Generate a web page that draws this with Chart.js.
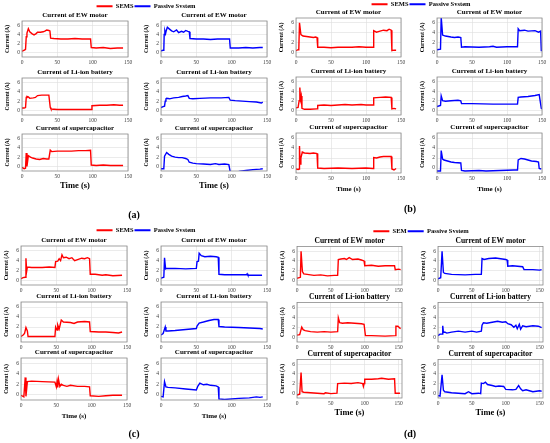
<!DOCTYPE html>
<html lang="en">
<head>
<meta charset="UTF-8">
<title>Current of EW motor, Li-ion battery and supercapacitor</title>
<script src="https://cdn.jsdelivr.net/npm/chart.js"></script>
<style>
  html, body { margin: 0; padding: 0; background: #fff; }
  body { width: 550px; height: 443px; position: relative; overflow: hidden; }
  canvas { position: absolute; }
  .tag { position: absolute; font: bold 10px "Liberation Serif", serif; transform: translate(-50%, -50%); color: #000; }
</style>
</head>
<body>
<script>
// ---- data ----
const xTicks = [0, 50, 100, 150];
const yTicks = [0, 2, 4, 6];
const plotTitles = ['Current of EW motor', 'Current of Li-ion battery', 'Current of supercapacitor'];
const seriesNames = ['SEMS', 'Passive System'];
const seriesNamesD = ['SEM', 'Passive System'];

// [time (s), current (A)]
// (a)
const aMotorSems = [[0,0.3],[2,0.4],[4,0.6],[5,0.7],[6,3.5],[7,4.3],[9,5.3],[11,4.6],[14,4.2],[17,3.9],[20,4.2],[22,4.5],[26,4.5],[30,4.6],[33,4.8],[35,5.0],[38,4.9],[39.5,4.8],[40.5,3.2],[45,3.1],[55,3.0],[65,3.0],[75,3.1],[85,3.0],[92,3.0],[97,3.0],[98,1.1],[105,1.0],[115,1.1],[125,0.9],[135,1.0],[143,1.0]];
const aMotorPass = [[0,0.4],[3,0.5],[4,0.6],[4.5,4.0],[5.5,4.8],[6.5,4.2],[7.5,4.9],[9,5.6],[12,5.2],[15,4.8],[18,4.6],[22,5.0],[25,4.4],[29,4.7],[32,4.5],[35,4.9],[38,4.7],[40,4.6],[41,3.1],[50,3.0],[60,3.0],[70,2.9],[80,3.0],[90,3.0],[97,3.0],[98,1.0],[110,1.0],[120,1.1],[130,1.0],[140,1.1],[144,1.1]];
const aBattSems = [[0,0.5],[3,0.5],[5,0.6],[6,2.8],[7,3.0],[9,2.9],[11,2.6],[16,2.7],[19,2.8],[22,3.2],[28,3.3],[34,3.3],[38,3.3],[40,0.6],[41,0.3],[50,0.2],[60,0.2],[70,0.2],[80,0.2],[90,0.2],[98,0.2],[99,1.0],[110,1.1],[120,1.1],[130,1.2],[138,1.1],[143,1.1]];
const aBattPass = [[0,0.6],[3,0.8],[5,0.9],[6,2.0],[7,2.5],[8,2.6],[12,2.5],[18,2.7],[25,2.8],[30,3.0],[35,3.1],[38,3.2],[40,2.6],[45,2.5],[55,2.6],[70,2.7],[85,2.7],[96,2.8],[98,2.2],[105,2.1],[115,2.0],[125,1.9],[135,1.8],[142,1.6],[144,1.8]];
const aCapSems = [[0,-0.2],[3,-0.5],[5,-0.4],[6,2.9],[7,0.0],[9,2.3],[12,2.0],[15,1.8],[20,1.6],[25,1.5],[30,1.7],[35,1.6],[38,1.6],[40,3.5],[42,3.2],[50,3.3],[60,3.3],[70,3.3],[80,3.4],[90,3.4],[97,3.5],[98,0.3],[105,0.2],[115,0.3],[125,0.2],[135,0.2],[143,0.2]];
const aCapPass = [[0,-0.5],[3,-0.5],[4,-0.4],[5,2.2],[8,3.0],[11,2.6],[15,2.2],[20,2.0],[25,1.9],[30,1.9],[35,1.7],[38,1.5],[40,0.9],[45,0.7],[50,0.6],[60,0.5],[70,0.4],[77,0.6],[82,0.4],[90,0.5],[96,0.4],[98,-1.2],[100,-1.2],[110,-1.1],[120,-0.9],[130,-0.7],[140,-0.6],[144,-0.5]];
// (b)
const bMotorSems = [[0,0.3],[3,0.5],[4,0.6],[5,6.0],[7,3.6],[10,3.3],[15,3.2],[20,3.1],[25,3.0],[28,3.1],[30,3.0],[31,1.0],[40,1.0],[50,0.9],[60,1.0],[70,1.0],[80,1.0],[90,1.1],[100,1.0],[110,1.0],[111,4.4],[115,4.1],[120,4.3],[125,4.5],[130,4.4],[133,4.7],[136,4.5],[137,0.3],[140,0.4],[143,0.4]];
const bMotorPass = [[0,0.5],[5,0.6],[6,7.2],[8,3.5],[12,3.3],[20,3.1],[25,3.0],[30,3.1],[34,3.0],[35,1.0],[40,1.1],[60,1.0],[75,1.1],[80,1.2],[85,1.0],[100,1.1],[115,1.1],[116,4.8],[118,4.4],[125,4.5],[130,4.3],[140,4.4],[145,4.1],[148,4.3],[149,0.3],[150,0.3]];
const bBattSems = [[0,0.5],[3,0.6],[4.5,2.0],[5.5,4.8],[6.5,2.3],[7.5,3.0],[8.5,0.4],[12,0.2],[20,0.2],[30,0.3],[31,1.0],[40,1.1],[50,1.0],[60,1.1],[70,1.2],[80,1.1],[93,1.2],[100,1.1],[110,1.1],[111,2.6],[120,2.7],[128,2.8],[136,2.7],[137,0.3],[140,0.4],[143,0.3]];
const bBattPass = [[0,0.8],[5,1.0],[6,3.0],[8,2.0],[12,1.9],[20,2.0],[30,2.1],[34,2.0],[35,1.4],[50,1.4],[80,1.3],[115,1.3],[116,2.7],[120,2.8],[130,2.9],[140,3.1],[146,3.3],[149,0.4],[150,0.3]];
const bCapSems = [[0,-0.2],[3,-0.3],[4.5,-0.2],[5,4.4],[6,0.8],[7,2.0],[9,3.2],[12,3.0],[20,2.9],[25,3.0],[30,2.9],[31,0.0],[40,-0.1],[60,0.0],[80,-0.1],[100,0.0],[110,-0.1],[111,2.1],[115,2.0],[120,2.2],[125,2.3],[136,2.3],[137,-0.2],[140,-0.4],[143,-0.1]];
const bCapPass = [[0,-0.6],[5,-0.6],[6,3.5],[8,1.8],[10,1.6],[15,1.4],[20,1.2],[25,1.1],[34,1.0],[35,-0.5],[40,-0.6],[60,-0.5],[70,-0.6],[90,-0.5],[110,-0.4],[115,-0.4],[116,1.6],[120,1.9],[125,1.8],[130,1.6],[135,1.4],[142,1.3],[145,1.2],[146,-0.1],[149,-0.2]];
// (c)
const cMotorSems = [[0,0.3],[3,0.5],[6,0.6],[7,4.5],[8,1.8],[9,2.7],[15,2.6],[30,2.6],[40,2.7],[48,2.6],[49,3.8],[52,3.9],[54,4.4],[56,4.0],[58,5.2],[60,4.6],[64,4.7],[68,4.4],[72,4.6],[76,4.0],[80,4.2],[86,4.5],[90,4.4],[94,4.6],[97,4.4],[98,1.2],[105,1.2],[115,1.0],[120,1.1],[130,0.9],[143,1.0]];
const cMotorPass = [[0,0.4],[4,0.6],[5,4.6],[6.5,2.3],[8,2.4],[20,2.4],[35,2.3],[50,2.4],[51,3.8],[53,3.9],[54,5.5],[57,5.0],[62,4.8],[70,4.9],[78,4.8],[81,4.7],[82,1.2],[90,1.1],[110,1.1],[121,1.1],[122,1.3],[123,1.0],[143,1.0]];
const cBattSems = [[0,0.1],[3,0.4],[5,0.7],[7,1.9],[9,1.2],[10,0.1],[20,0.1],[48,0.1],[49,2.0],[51,1.4],[52,2.4],[54,1.6],[57,3.4],[60,3.0],[70,2.9],[75,2.7],[80,3.0],[90,3.1],[97,3.0],[98,1.1],[110,1.0],[120,1.0],[130,0.9],[138,0.8],[143,1.0]];
const cBattPass = [[0,0.4],[3,0.7],[6,2.0],[7,1.2],[10,1.2],[20,1.3],[35,1.5],[50,1.7],[51,2.2],[54,2.8],[60,3.0],[68,3.3],[75,3.5],[81,3.5],[82,2.1],[90,2.0],[110,1.9],[125,1.8],[140,1.7],[144,1.6]];
const cCapSems = [[0,-0.1],[4,-0.4],[6,3.3],[7,-0.3],[9,2.5],[15,2.6],[30,2.5],[48,2.4],[50,1.5],[51,2.5],[52,1.4],[53,3.0],[55,1.6],[57,2.0],[60,1.8],[65,1.6],[70,1.8],[80,1.6],[90,1.6],[97,1.5],[98,-0.2],[110,-0.3],[120,-0.2],[130,-0.1],[143,-0.1]];
const cCapPass = [[0,-0.3],[3,-0.4],[5,2.5],[7,1.5],[10,1.4],[20,1.3],[35,1.1],[50,0.9],[52,1.6],[55,2.2],[60,1.9],[65,2.0],[70,1.8],[78,1.7],[81,1.5],[82,-0.8],[90,-0.9],[110,-0.7],[125,-0.6],[135,-0.4],[140,-0.5],[144,-0.4]];
// (d)
const dMotorSems = [[0,0.4],[5,0.6],[6,6.0],[8,1.8],[10,1.3],[15,1.2],[25,1.0],[35,1.1],[45,0.9],[55,1.0],[60,1.0],[61,4.3],[65,4.4],[70,4.5],[73,4.3],[77,4.7],[82,4.3],[90,4.4],[95,4.2],[99,4.0],[100,3.0],[110,3.1],[120,2.9],[130,3.0],[144,3.0],[145,2.2],[150,2.3],[153,2.2]];
const dMotorPass = [[0,0.3],[4,0.5],[6,6.0],[8,1.6],[10,1.4],[20,1.2],[40,1.1],[55,1.2],[64,1.2],[65,4.5],[68,4.3],[75,4.5],[85,4.6],[90,4.5],[100,4.3],[102,4.2],[103,2.9],[110,3.0],[125,2.8],[127,2.2],[140,2.2],[150,2.1],[153,2.2]];
const dBattSems = [[0,0.4],[4,0.5],[7,2.0],[9,1.5],[12,1.3],[20,1.1],[30,1.0],[40,1.1],[50,1.0],[60,1.1],[61,3.9],[63,2.9],[67,2.8],[75,2.9],[85,2.8],[95,2.7],[99,2.6],[101,0.3],[110,0.3],[130,0.2],[145,0.3],[146,2.2],[149,2.2],[152,1.8],[153,1.7]];
const dBattPass = [[0,0.3],[3,0.6],[6,0.6],[7,2.3],[8,0.9],[10,1.0],[13,0.8],[20,1.0],[30,1.2],[40,1.0],[50,1.2],[57,1.0],[64,1.2],[65,2.4],[67,2.9],[72,2.8],[80,3.0],[88,3.2],[95,3.0],[100,3.1],[103,2.7],[108,2.5],[112,2.0],[115,2.4],[117,1.7],[120,2.6],[122,1.6],[125,2.3],[130,2.1],[140,2.3],[148,2.2],[153,1.9]];
const dCapSems = [[0,-0.4],[4,-0.2],[6,4.3],[7.5,0.3],[10,0.2],[20,0.1],[30,0.0],[40,-0.1],[42,0.1],[50,-0.1],[59,0.0],[60,2.0],[70,2.1],[80,2.0],[90,2.2],[97,2.0],[98,1.4],[99,2.0],[100,2.9],[110,2.9],[120,3.0],[125,3.1],[135,2.9],[144,3.0],[145,0.0],[152,0.0]];
const dCapPass = [[0,-0.5],[3,-0.6],[6,3.8],[8,0.6],[10,0.3],[20,0.1],[30,0.0],[40,-0.1],[45,0.3],[50,-0.1],[60,0.0],[63,-0.1],[64,2.1],[67,2.0],[70,2.3],[73,1.8],[80,1.6],[85,1.4],[90,1.5],[97,1.4],[100,0.8],[110,0.7],[115,0.8],[119,1.6],[122,0.9],[125,0.5],[130,0.7],[135,0.5],[140,0.3],[145,0.4],[150,0.5],[153,0.4]];

// ---- layout ----
const SERIF = '"Liberation Serif", "DejaVu Serif", serif';
const RED = '#ff0000', BLUE = '#0000ff';
const YW = 18;   // y axis width (ticks + title)
const PR = 7;    // room on the right for the last tick label
const TH = 9;    // title block height

const panels = [
  { tag: '(a)', tagPos: [134, 214], names: seriesNames, legendPos: [146, 7],
    series: [[aMotorSems, aMotorPass], [aBattSems, aBattPass], [aCapSems, aCapPass]],
    cols: [22, 161], boxW: 106, rows: [21, 77.5, 134], heights: [36, 37, 37],
    xMax: 150, titleSize: 7, timeSize: 8.5, ySize: 5.5 },
  { tag: '(b)', tagPos: [410, 208], names: seriesNames, legendPos: [421, 5],
    series: [[bMotorSems, bMotorPass], [bBattSems, bBattPass], [bCapSems, bCapPass]],
    cols: [296, 437], boxW: 105, rows: [18, 77, 133], heights: [39, 38, 40],
    xMax: 150, titleSize: 7, timeSize: 7, ySize: 5.8 },
  { tag: '(c)', tagPos: [134, 433], names: seriesNames, legendPos: [146, 231],
    series: [[cMotorSems, cMotorPass], [cBattSems, cBattPass], [cCapSems, cCapPass]],
    cols: [21, 161], boxW: 106, rows: [246, 302, 358], heights: [39, 40, 42],
    xMax: 150, titleSize: 7, timeSize: 7, ySize: 5.8 },
  { tag: '(d)', tagPos: [410, 433], names: seriesNamesD, legendPos: [421, 232],
    series: [[dMotorSems, dMotorPass], [dBattSems, dBattPass], [dCapSems, dCapPass]],
    cols: [297, 438], boxW: 105, rows: [246, 302, 359], heights: [39, 40, 39],
    xMax: 155, titleSize: 7.5, timeSize: 8.5, ySize: 5.8 }
];

// box round the plot area, like a MATLAB axes
const framePlugin = {
  id: 'frame',
  afterDraw(chart) {
    const { ctx, chartArea: a } = chart;
    ctx.save();
    ctx.strokeStyle = '#8a8a8a';
    ctx.lineWidth = 0.8;
    ctx.strokeRect(a.left, a.top, a.right - a.left, a.bottom - a.top);
    ctx.restore();
  }
};

function addCanvas(left, top, w, h) {
  const c = document.createElement('canvas');
  c.width = w;
  c.height = h;
  c.style.left = left + 'px';
  c.style.top = top + 'px';
  document.body.appendChild(c);
  return c;
}

function makeSubplot(p, row, col) {
  const last = row === 2;
  const xh = last ? 21 : 9;
  const boxH = p.heights[row];
  const canvas = addCanvas(p.cols[col] - YW, p.rows[row] - TH,
    Math.round(YW + p.boxW + PR), Math.round(TH + boxH + xh));
  const points = p.series[row][col].map(([t, i]) => ({ x: t, y: i }));

  new Chart(canvas, {
    type: 'line',
    data: {
      datasets: [{
        data: points,
        borderColor: col === 0 ? RED : BLUE,
        borderWidth: 1.4,
        pointRadius: 0,
        tension: 0,
        fill: false
      }]
    },
    options: {
      responsive: false,
      animation: false,
      events: [],
      layout: { padding: { left: 0, right: PR, top: 0, bottom: 0 } },
      plugins: {
        legend: { display: false },
        tooltip: { enabled: false },
        title: {
          display: true,
          text: plotTitles[row],
          fullSize: false,
          color: '#000',
          font: { family: SERIF, size: p.titleSize, weight: 'bold', lineHeight: 1 },
          padding: { top: 0, bottom: 2 }
        }
      },
      scales: {
        x: {
          type: 'linear',
          min: 0,
          max: p.xMax,
          afterBuildTicks: s => { s.ticks = xTicks.map(v => ({ value: v })); },
          afterFit: s => { s.height = xh; s.paddingLeft = 0; s.paddingRight = 0; },
          grid: { color: '#dedede', lineWidth: 0.6, drawTicks: false },
          border: { display: false },
          ticks: { padding: 2, color: '#404040', maxRotation: 0, autoSkip: false,
                   font: { family: SERIF, size: 5.5 } },
          title: { display: last, text: 'Time (s)', color: '#000',
                   font: { family: SERIF, size: p.timeSize, weight: 'bold' },
                   padding: { top: 0, bottom: 1 } }
        },
        y: {
          min: -1,
          max: 7,
          afterBuildTicks: s => { s.ticks = yTicks.map(v => ({ value: v })); },
          afterFit: s => { s.width = YW; s.paddingTop = 0; s.paddingBottom = 0; },
          grid: { color: '#dedede', lineWidth: 0.6, drawTicks: false },
          border: { display: false },
          ticks: { padding: 2, color: '#404040', font: { family: SERIF, size: 5.5 } },
          title: { display: true, text: 'Current (A)', color: '#000',
                   font: { family: SERIF, size: p.ySize, weight: 'bold', lineHeight: 1 },
                   padding: { top: 0.5, bottom: 0 } }
        }
      }
    },
    plugins: [framePlugin]
  });
}

function makeLegend(p) {
  const w = 140;
  const canvas = addCanvas(p.legendPos[0] - w / 2, p.legendPos[1] - 5, w, 12);
  new Chart(canvas, {
    type: 'line',
    data: {
      datasets: [
        { label: p.names[0], data: [], borderColor: RED, backgroundColor: RED, borderWidth: 2 },
        { label: p.names[1], data: [], borderColor: BLUE, backgroundColor: BLUE, borderWidth: 2 }
      ]
    },
    options: {
      responsive: false,
      animation: false,
      events: [],
      layout: { padding: 0 },
      scales: { x: { display: false }, y: { display: false } },
      plugins: {
        tooltip: { enabled: false },
        legend: {
          display: true,
          position: 'top',
          align: 'center',
          labels: {
            usePointStyle: true,
            pointStyle: 'line',
            pointStyleWidth: 16,
            boxWidth: 16,
            padding: 1,
            color: '#000',
            font: { family: SERIF, size: 6.5, weight: 'bold' }
          }
        }
      }
    }
  });
}

panels.forEach(p => {
  makeLegend(p);
  for (let row = 0; row < 3; row++) {
    for (let col = 0; col < 2; col++) makeSubplot(p, row, col);
  }
  const tag = document.createElement('div');
  tag.className = 'tag';
  tag.textContent = p.tag;
  tag.style.left = p.tagPos[0] + 'px';
  tag.style.top = p.tagPos[1] + 'px';
  document.body.appendChild(tag);
});
</script>
</body>
</html>
